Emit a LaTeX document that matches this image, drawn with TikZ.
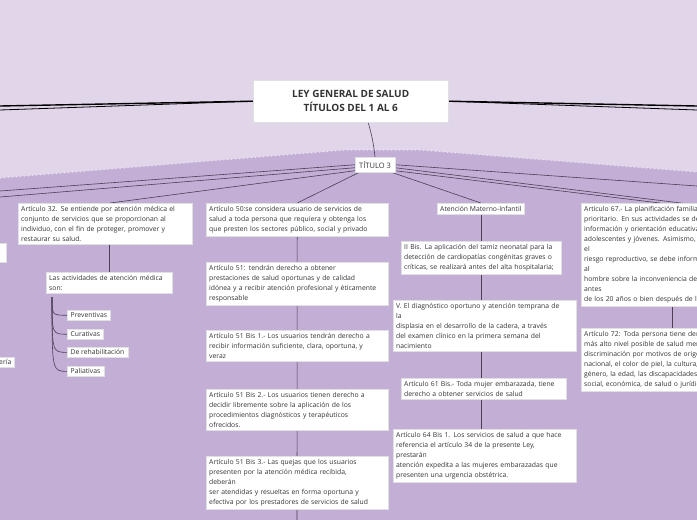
\documentclass[tikz,border=0pt]{standalone}
\usepackage{fontspec}
\setmainfont{Open Sans}
\usetikzlibrary{calc}
\pgfdeclarelayer{paper}
\pgfdeclarelayer{wires}
\pgfsetlayers{paper,wires,main}
\definecolor{bgtop}{HTML}{E1D5EA}
\definecolor{bglow}{HTML}{C3AED6}
\definecolor{ink}{HTML}{333333}
\definecolor{wire}{HTML}{4A3F55}
\tikzset{
  art/.style={draw=black!12, fill=white, anchor=north west, align=left,
    font=\fontsize{6.8}{10}\selectfont, text=ink, inner sep=3pt},
  leaf/.style={art, inner xsep=3.5pt, inner ysep=2.5pt},
  link/.style={draw=wire, line width=0.6pt},
}

\begin{document}
\begin{tikzpicture}[x=1pt,y=-1pt]
    \useasboundingbox (0,0) rectangle (697,520);
    \clip (0,0) rectangle (697,520);
    % Background
    \begin{pgfonlayer}{paper}
    \fill[bgtop] (0,0) rectangle (697,520);
    \fill[bglow] (0,178) -- (345,150) -- (420,150) -- (697,172) -- (697,520) -- (0,520) -- cycle;
    \draw[white!70!bglow, line width=1.2pt, dash pattern=on 1pt off 3pt] (0,178) -- (345,150) -- (420,150) -- (697,172);
    \end{pgfonlayer}
    % Main title
    \node[art, font=\fontsize{10}{14}\selectfont\bfseries, align=center, minimum width=195pt, minimum height=42pt, inner sep=0pt] (root) at (253,80) {LEY GENERAL DE SALUD\\TÍTULOS DEL 1 AL 6};
    \coordinate (farL) at (0,106);
    \coordinate (farR) at (697,106);
    % Title 3
    \node[art, font=\fontsize{7.5}{10}\selectfont, inner sep=4pt] (t3) at (355,157) {TÍTULO 3};
    \coordinate (rootfoot) at (368,122);
    \coordinate (edgeL1) at (0,191);
    \coordinate (edgeL2) at (0,197);
    \coordinate (edgeR1) at (697,186);
    \coordinate (edgeR2) at (697,205);
    % Articulo 32
    \node[art, text width=168pt] (a32) at (18,203) {Artículo 32. Se entiende por atención médica el\\conjunto de servicios que se proporcionan al\\individuo, con el fin de proteger, promover y\\restaurar su salud.};
    \node[art, text width=120pt] (acts) at (46,272) {Las actividades de atención médica\\son:};
    \coordinate (trunk) at (52,297);
    \node[leaf] (prev) at (67,310) {Preventivas};
    \node[leaf] (cura) at (67,329) {Curativas};
    \node[leaf] (rehab) at (67,347) {De rehabilitación};
    \node[leaf] (pall) at (67,366) {Paliativas};
    % Left cut-off nodes
    \node[art, minimum width=20pt, minimum height=19pt] (cutA) at (-14,243) {};
    \node[art, anchor=north east, inner sep=2.5pt] (cutB) at (14,357) {ería};
    % Articulo 50 column
    \node[art, text width=176pt] (a50) at (206,203) {Artículo 50:se considera usuario de servicios de\\salud a toda persona que requiera y obtenga los\\que presten los sectores público, social y privado};
    \node[art, text width=176pt] (a51) at (206,262) {Artículo 51: tendrán derecho a obtener\\prestaciones de salud oportunas y de calidad\\idónea y a recibir atención profesional y éticamente\\responsable};
    \node[art, text width=176pt] (b1) at (206,330) {Artículo 51 Bis 1.- Los usuarios tendrán derecho a\\recibir información suficiente, clara, oportuna, y\\veraz};
    \node[art, text width=176pt] (b2) at (206,389) {Artículo 51 Bis 2.- Los usuarios tienen derecho a\\decidir libremente sobre la aplicación de los\\procedimientos diagnósticos y terapéuticos\\ofrecidos.};
    \node[art, text width=176pt] (b3) at (206,456) {Artículo 51 Bis 3.- Las quejas que los usuarios\\presenten por la atención médica recibida,\\deberán\\ser atendidas y resueltas en forma oportuna y\\efectiva por los prestadores de servicios de salud};
    \coordinate (colend) at (297,520);
    % Materno-Infantil column
    \node[art] (mat) at (437,203) {Atención Materno-Infantil};
    \node[art, text width=154pt] (tamiz) at (401,241) {II Bis. La aplicación del tamiz neonatal para la\\detección de cardiopatías congénitas graves o\\críticas, se realizará antes del alta hospitalaria;};
    \node[art, text width=177pt] (displ) at (393,300) {V. El diagnóstico oportuno y atención temprana de\\la\\displasia en el desarrollo de la cadera, a través\\del examen clínico en la primera semana del\\nacimiento};
    \node[art, text width=159pt] (a61) at (401,378) {Artículo 61 Bis.- Toda mujer embarazada, tiene\\derecho a obtener servicios de salud};
    \node[art, text width=177pt] (a64) at (393,429) {Artículo 64 Bis 1. Los servicios de salud a que hace\\referencia el artículo 34 de la presente Ley,\\prestarán\\atención expedita a las mujeres embarazadas que\\presenten una urgencia obstétrica.};
    % Articulo 67 column
    \node[art, text width=176pt] (a67) at (581,203) {Artículo 67.- La planificación familiar tiene carácter\\prioritario. En sus actividades se debe incluir la\\información y orientación educativa para los\\adolescentes y jóvenes. Asimismo, para disminuir\\el\\riesgo reproductivo, se debe informar a la mujer y\\al\\hombre sobre la inconveniencia del embarazo\\antes\\de los 20 años o bien después de los 35};
    \node[art, text width=176pt] (a72) at (581,328) {Artículo 72: Toda persona tiene derecho a gozar del\\más alto nivel posible de salud mental, sin\\discriminación por motivos de origen étnico o\\nacional, el color de piel, la cultura, el sexo, el\\género, la edad, las discapacidades, la condición\\social, económica, de salud o jurídica};
    % Connectors
    \begin{pgfonlayer}{wires}
    \draw[black, line width=1.4pt] (root.west) -- (farL);
    \draw[black, line width=0.8pt] (root.west) -- ($(farL)+(0,4)$);
    \draw[black, line width=1.4pt] (root.east) -- (farR);
    \draw[black, line width=0.8pt] (root.east) -- ($(farR)+(0,4)$);
    \draw[link] (rootfoot) to[bend left=5] (t3.north);
    \draw[link] (t3.west) -- (edgeL1);
    \draw[link] ($(t3.west)+(0,3)$) -- (edgeL2);
    \draw[link] (t3.east) -- (edgeR1);
    \draw[link] ($(t3.east)+(0,3)$) -- (edgeR2);
    \draw[link] ($(t3.west)+(0,6)$) -- (a32.north -| 110,0);
    \draw[link] (a32.south -| acts.north) -- (acts.north);
    \foreach \leafname in {prev,cura,rehab,pall}
        \draw[link] (trunk) .. controls (trunk |- \leafname.west) and (trunk |- \leafname.west) .. (\leafname.west);
    \draw[link] ($(t3.south west)+(4,0)$) -- (a50.north);
    \draw[link] (a50.south) -- (colend);
    \draw[link] ($(t3.south east)+(-3,0)$) -- (mat.north);
    \draw[link] (mat.south) -- (a64.north -| mat.south);
    \draw[link] ($(t3.east)+(0,6)$) -- (a67.north -| 660,0);
    \draw[link] (a67.south -| 672,0) -- (a72.north -| 672,0);
    \end{pgfonlayer}
\end{tikzpicture}
\end{document}
